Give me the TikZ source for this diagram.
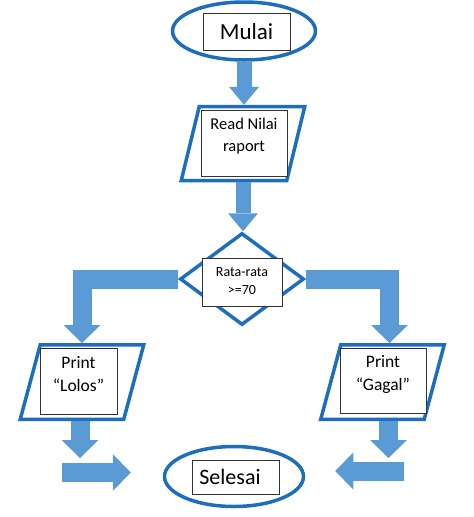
\documentclass[tikz,border=0pt]{standalone}
\usepackage{fontspec}
\setmainfont{Carlito}
\usepackage{tikz}
\usetikzlibrary{shapes, arrows.meta, positioning, calc}

\definecolor{garisbiru}{RGB}{30,110,190}
\definecolor{panahbiru}{RGB}{91,155,213}

\tikzset{
    bentuk/.style={draw=garisbiru, line width=3.5pt, fill=white, inner sep=0pt},
    kotakteks/.style={draw=black!80, line width=0.8pt, fill=white, inner sep=0pt},
    jajar/.style={inner sep=0pt, outer sep=1.75pt, minimum width=120pt, minimum height=74pt},
    panah/.style={draw=panahbiru, line width=19pt,
        -{Triangle[length=18pt, width=37pt, line width=0pt]}},
    panahkecil/.style={draw=panahbiru, line width=15pt,
        -{Triangle[length=18pt, width=30pt, line width=0pt]}}
}

\begin{document}
\begin{tikzpicture}[x=1pt, y=-1pt]
    \useasboundingbox (0,0) rectangle (474,517);

    % Flowchart shapes
    \node[bentuk, ellipse, minimum width=143pt, minimum height=58pt] (mulai) at (244,31) {};
    \node[jajar] (baca) at (243,143.5) {};
    \node[bentuk, diamond, minimum width=124pt, minimum height=92pt] (cek) at (242,279) {};
    \node[jajar, minimum height=74.5pt] (lolos) at (82,382) {};
    \node[jajar, minimum height=74.5pt] (gagal) at (382.5,382) {};
    \node[bentuk, ellipse, minimum width=139pt, minimum height=60pt] (selesai) at (234,476.5) {};

    % Parallelograms drawn over their nodes
    \foreach \nama/\s in {baca/18, lolos/20, gagal/20} {
        \draw[bentuk, line join=miter]
            ([xshift=\s pt, yshift=-1.75pt]\nama.north west)
            -- ([yshift=-1.75pt]\nama.north east)
            -- ([xshift=-\s pt, yshift=1.75pt]\nama.south east)
            -- ([yshift=1.75pt]\nama.south west) -- cycle;
    }

    % Text boxes on top of the shapes
    \foreach \nama/\x/\y/\w/\h in {
        mulaiteks/246.5/31.5/87/37,
        bacateks/244/143/86/66,
        cekteks/242/282/80/48,
        lolosteks/78.5/381/77/66,
        gagalteks/383/380.5/86/65,
        selesaiteks/235.5/477/87/34
    } {
        \node[kotakteks, minimum width=\w pt, minimum height=\h pt] (\nama) at (\x,\y) {};
    }

    % Texts
    \node[font=\fontsize{23}{27}\selectfont] (tmulai) at (246.5,32) {Mulai};
    \node[align=center, font=\fontsize{16.5}{22}\selectfont] (tbaca) at (244,136) {Read Nilai\\raport};
    \node[align=center, font=\fontsize{14}{18}\selectfont] (tcek) at (242,281) {Rata-rata\\>=70};
    \node[align=center, font=\fontsize{17.5}{23}\selectfont] (tlolos) at (78.5,374) {Print\\“Lolos”};
    \node[align=center, font=\fontsize{17.5}{23}\selectfont] (tgagal) at (383,374) {Print\\“Gagal”};
    \node[font=\fontsize{22}{26}\selectfont] (tselesai) at (230,477) {Selesai};

    % Block arrows
    \draw[panahkecil] (mulai.south) -- (mulai.south |- baca.north);
    \draw[panahkecil] (baca.south) -- (baca.south |- cek.north);
    \draw[panah] (cek.west) -| (lolos.north);
    \draw[panah] (cek.east) -| ([xshift=7pt]gagal.north);
    \draw[panah] ([xshift=-2pt]lolos.south) -- ++(0,37);
    \draw[panah] ([xshift=6pt]gagal.south) -- ++(0,37);

    % Arrows towards the end
    \coordinate (kiri) at (62,472.5);
    \coordinate (kanan) at (404,471);
    \draw[panah, shorten >=32pt] (kiri) -- (kiri -| selesai.west);
    \draw[panah, shorten >=30pt] (kanan) -- (kanan -| selesai.east);
\end{tikzpicture}
\end{document}
